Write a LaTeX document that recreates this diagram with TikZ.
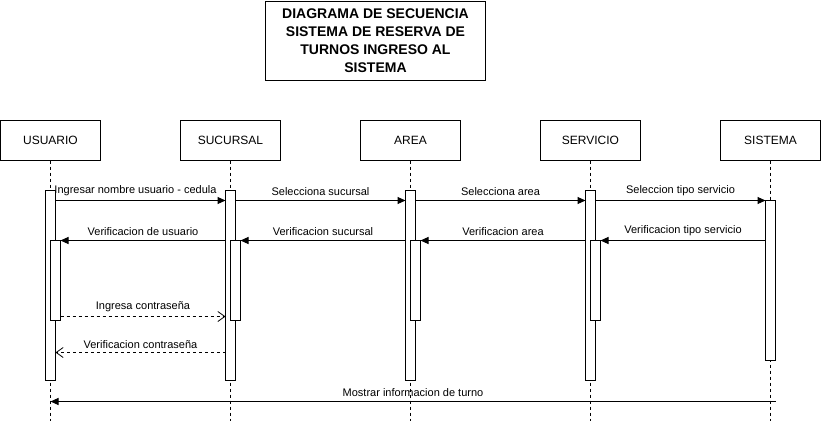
\documentclass[tikz,border=0pt]{standalone}
\usepackage{fontspec}
\setmainfont{Liberation Sans}
\usepackage{tikz}
\usetikzlibrary{arrows.meta,positioning,calc}

\begin{document}
\begin{tikzpicture}[
    x=1pt, y=-1pt,
    node distance=80pt,
    actor/.style={rectangle, draw, line width=1pt, outer sep=0pt, fill=white, minimum width=100pt, minimum height=40pt, font=\fontsize{12}{14}\selectfont},
    titlebox/.style={rectangle, draw, line width=1pt, fill=white, minimum width=220pt, minimum height=79pt, align=center, font=\bfseries\fontsize{14}{18}\selectfont},
    lifeline/.style={dash pattern=on 3pt off 3pt, line width=0.8pt},
    act/.style={rectangle, draw, line width=1pt, outer sep=0pt, fill=white, minimum width=10pt, inner sep=0pt},
    msg/.style={-{Triangle[length=8pt,width=7pt]}, line width=1pt},
    reply/.style={-{Straight Barb[length=7pt,width=10pt]}, dash pattern=on 3pt off 3pt, line width=0.8pt},
    lbl/.style={font=\fontsize{11}{13}\selectfont, inner sep=1pt, above=3pt}
]
\useasboundingbox (-0.5,-0.5) rectangle (820.5,420.5);

% Title
\node[titlebox] (titulo) at (375,40.5) {DIAGRAMA DE SECUENCIA\\SISTEMA DE RESERVA DE\\TURNOS INGRESO AL\\SISTEMA};

% Participants
\node[actor] (usuario) at (50,140) {USUARIO};
\node[actor, right=of usuario] (sucursal) {SUCURSAL};
\node[actor, right=of sucursal] (area) {AREA};
\node[actor, right=of area] (servicio) {SERVICIO};
\node[actor, right=of servicio] (sistema) {SISTEMA};

% Lifelines
\foreach \p in {usuario,sucursal,area,servicio,sistema}{
  \coordinate[below=260pt of \p] (\p-fin);
  \draw[lifeline] (\p) -- (\p-fin);
}

% Activation bars
\foreach \p in {usuario,sucursal,area,servicio}{
  \node[act, minimum height=190pt, below=30pt of \p] (\p-act) {};
  \node[act, minimum height=80pt, anchor=north west] (\p-ret) at ([yshift=-50pt]\p-act.north) {};
}
\node[act, minimum height=160pt, below=40pt of sistema] (sistema-act) {};

% Requests
\draw[msg] ([yshift=-10pt]usuario-act.north east) -- ([yshift=-10pt]sucursal-act.north west) node[midway, lbl, xshift=-5pt] {Ingresar nombre usuario - cedula};
\draw[msg] ([yshift=-10pt]sucursal-act.north east) -- ([yshift=-10pt]area-act.north west) node[midway, lbl] {Selecciona sucursal};
\draw[msg] ([yshift=-10pt]area-act.north east) -- ([yshift=-10pt]servicio-act.north west) node[midway, lbl] {Selecciona area};
\draw[msg] ([yshift=-10pt]servicio-act.north east) -- (sistema-act.north west) node[midway, lbl] {Seleccion tipo servicio};

% Answers
\draw[msg] ([yshift=-40pt]sistema-act.north west) -- (servicio-ret.north east) node[midway, lbl] {Verificacion tipo servicio};
\draw[msg] ([yshift=-50pt]servicio-act.north west) -- (area-ret.north east) node[midway, lbl] {Verificacion area};
\draw[msg] ([yshift=-50pt]area-act.north west) -- (sucursal-ret.north east) node[midway, lbl] {Verificacion sucursal};
\draw[msg] ([yshift=-50pt]sucursal-act.north west) -- (usuario-ret.north east) node[midway, lbl] {Verificacion de usuario};

% Password
\draw[reply] ([yshift=4pt]usuario-ret.south east) -- ([yshift=-126pt]sucursal-act.north west) node[midway, lbl] {Ingresa contraseña};
\draw[reply] ([yshift=-162pt]sucursal-act.north west) -- ([yshift=-162pt]usuario-act.north east) node[midway, lbl] {Verificacion contraseña};

% Result
\coordinate (fin-sistema) at (775,401);
\coordinate (fin-usuario) at (50,401);
\draw[msg] (fin-sistema) -- (fin-usuario) node[midway, lbl] {Mostrar informacion de turno};

\end{tikzpicture}
\end{document}
